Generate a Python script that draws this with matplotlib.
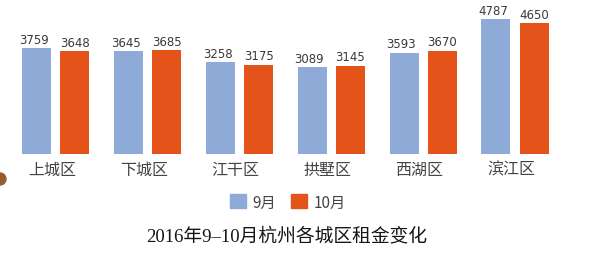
import numpy as np
import matplotlib.pyplot as plt
from matplotlib.patches import Patch, Ellipse

plt.rcParams['font.family'] = ['Noto Sans CJK SC', 'DejaVu Sans']

districts = ["上城区", "下城区", "江干区", "拱墅区", "西湖区", "滨江区"]
sep_rent = [3759, 3645, 3258, 3089, 3593, 4787]
oct_rent = [3648, 3685, 3175, 3145, 3670, 4650]
series_names = ["9月", "10月"]
title = "2016年9–10月杭州各城区租金变化"

BLUE = "#8eabd8"
ORANGE = "#e4531a"

fig = plt.figure(figsize=(5.92, 2.55), dpi=100)
fig.patch.set_facecolor("white")
ax = fig.add_axes([0, 100 / 255, 1, 155 / 255])
ax.set_facecolor("none")

x = np.arange(len(districts))
w = 0.315
ax.bar(x - 0.207, sep_rent, w, color=BLUE)
ax.bar(x + 0.21, oct_rent, w, color=ORANGE)

for xi, v in zip(x - 0.207, sep_rent):
    ax.text(xi - 0.03, v + 90, str(v), ha="center", va="bottom", fontsize=8.5,
            color="#3a3a3a", family="DejaVu Sans")
for xi, v in zip(x + 0.21, oct_rent):
    ax.text(xi, v + 90, str(v), ha="center", va="bottom", fontsize=8.5,
            color="#3a3a3a", family="DejaVu Sans")

ax.set_xticks(x - 0.04)
ax.set_xticklabels(districts, fontsize=11.5, color="#444444")
ax.tick_params(axis="x", length=0, pad=5)
ax.set_yticks([])
ax.set_xlim(-0.604, 5.838)
ax.set_ylim(0, 5510)
for s in ax.spines.values():
    s.set_visible(False)

handles = [Patch(color=BLUE), Patch(color=ORANGE)]
fig.legend(handles, series_names, loc="center", bbox_to_anchor=(288 / 592, 1 - 203 / 255),
           ncol=2, frameon=False, fontsize=11, handlelength=1.05, handleheight=1.05,
           handletextpad=0.4, columnspacing=1.0, labelcolor="#444444")

fig.text(287 / 592, 1 - 236 / 255, title, ha="center", va="center", fontsize=13.5,
         color="#151515", family=["Liberation Serif", "Noto Sans CJK SC"])

# small decorative dot at the left edge
fig.patches.append(Ellipse((0, 1 - 180 / 255), 12 / 592, 12 / 255, transform=fig.transFigure,
                           color="#9b5a2e", clip_on=False))

fig.savefig("out.png", dpi=100)
